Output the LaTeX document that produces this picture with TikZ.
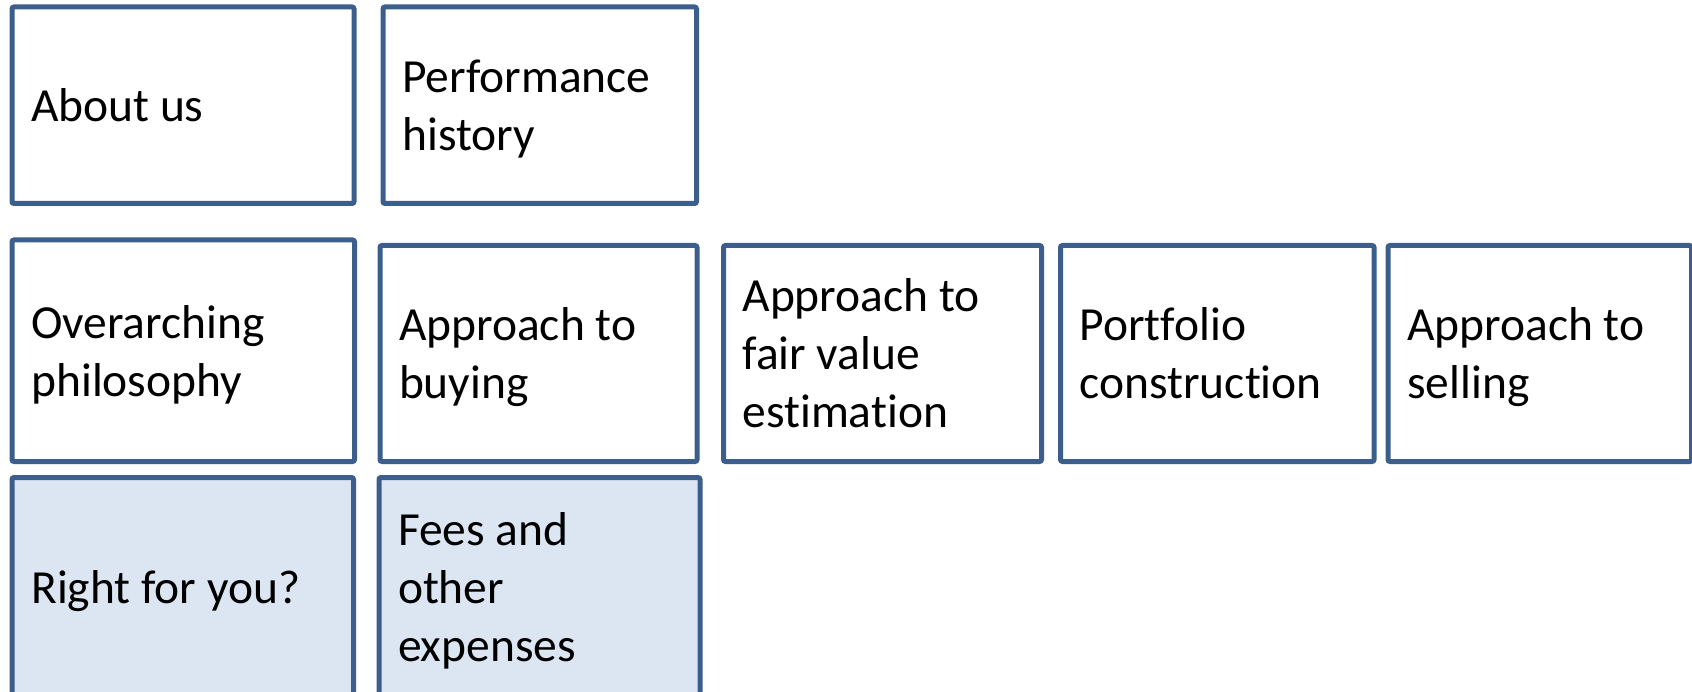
\documentclass[tikz,border=0pt]{standalone}
\usepackage{fontspec}
\setmainfont{Carlito}[Ligatures=NoCommon]

\definecolor{tileline}{HTML}{3B5E8C}
\definecolor{tileblue}{HTML}{DCE6F2}

\tikzset{
    tile/.style={rectangle, draw=tileline, line width=5pt, rounded corners=2pt,
        fill=white, inner xsep=19pt, inner ysep=0pt, align=left,
        font=\fontsize{47.5}{58}\selectfont,
        execute at begin node={\spaceskip=0pt\xspaceskip=0pt\relax}},
    tileshaded/.style={tile, fill=tileblue},
    % depth below the first baseline, no descender on the last line
    oneline/.style={text depth=0pt},
    twolines/.style={text depth=58pt},
    threelines/.style={text depth=116pt}
}

\begin{document}
\begin{tikzpicture}[x=1pt, y=-1pt]

    \useasboundingbox (0,0) rectangle (1692,692);

    % --- Top row ---
    \node[tile, oneline, minimum width=342pt, minimum height=196.5pt, text width=304pt]
        (about) at (183,105.25) {About us};
    \node[tile, twolines, minimum width=313.5pt, minimum height=196.5pt, text width=275pt]
        (history) at (539.75,105.25) {Performance\\history};

    % --- Middle row (investment process) ---
    \node[tile, twolines, minimum width=342.5pt, minimum height=221.5pt, text width=304pt]
        (philosophy) at (183.25,350.75) {Overarching\\philosophy};
    \node[tile, twolines, minimum width=317pt, minimum height=216pt, text width=279pt]
        (buying) at (538.5,353.5) {Approach to\\buying};
    \node[tile, threelines, minimum width=318pt, minimum height=216pt, text width=280pt]
        (fairvalue) at (882.5,353.5) {Approach to\\fair value\\estimation};
    \node[tile, twolines, minimum width=313.5pt, minimum height=216pt, text width=275pt]
        (portfolio) at (1217.25,353.5) {Portfolio\\construction};
    \node[tile, twolines, minimum width=303.5pt, minimum height=216pt, text width=265pt]
        (selling) at (1539.75,353.5) {Approach to\\selling};

    % --- Bottom row (shaded) ---
    \node[tileshaded, oneline, minimum width=341.5pt, minimum height=219.5pt, text width=303pt]
        (rightforyou) at (182.75,587.25) {Right for you?};
    \node[tileshaded, threelines, minimum width=321pt, minimum height=219.5pt, text width=283pt]
        (fees) at (539.5,587.25) {Fees and\\other\\expenses};

\end{tikzpicture}
\end{document}
